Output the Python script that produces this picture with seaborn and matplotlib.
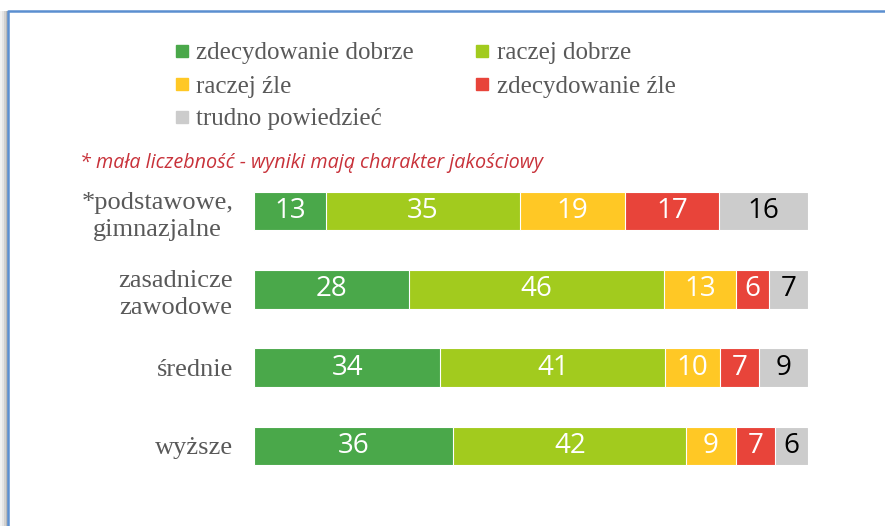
import numpy as np
import pandas as pd
import seaborn as sns
import matplotlib.pyplot as plt
from matplotlib.lines import Line2D
from matplotlib.patches import Rectangle

categories = ["*podstawowe,\ngimnazjalne", "zasadnicze\nzawodowe", "średnie", "wyższe"]
series_names = ["zdecydowanie dobrze", "raczej dobrze", "raczej źle", "zdecydowanie źle", "trudno powiedzieć"]
zd_dobrze = [13, 28, 34, 36]
raczej_dobrze = [35, 46, 41, 42]
raczej_zle = [19, 13, 10, 9]
zd_zle = [17, 6, 7, 7]
trudno = [16, 7, 9, 6]
colors = ["#4aa84a", "#a2cb1e", "#ffc825", "#e8443a", "#cccccc"]
label_colors = ["white", "white", "white", "white", "black"]
note = "* mała liczebność - wyniki mają charakter jakościowy"

vals = np.array([zd_dobrze, raczej_dobrze, raczej_zle, zd_zle, trudno], dtype=float)
# 100% stacked: bar lengths are shares of each row
shares = vals / vals.sum(axis=0) * 100
cum = shares.cumsum(axis=0)

df = pd.DataFrame({"kat": categories})
for k, name in enumerate(series_names):
    df[name] = cum[k]

sns.set_style("white")
fig = plt.figure(figsize=(8.85, 5.26), dpi=100)
ax = fig.add_axes([254 / 885, 1 - 485 / 526, 554 / 885, 313 / 526])

# draw from the right end backwards so every segment shows
for k in range(len(series_names) - 1, -1, -1):
    sns.barplot(data=df, x=series_names[k], y="kat", orient="h", color=colors[k],
                saturation=1, width=0.49, edgecolor="white", linewidth=0.8, ax=ax)

for k in range(len(series_names)):
    for i in range(len(categories)):
        ax.text(cum[k, i] - shares[k, i] / 2, i, f"{vals[k, i]:.0f}", ha="center", va="center",
                color=label_colors[k], fontsize=20, family="Open Sans")

ax.set_xlim(0, 100)
ax.set_ylim(3.5, -0.5)
ax.set_xlabel("")
ax.set_ylabel("")
ax.set_xticks([])
sns.despine(ax=ax, left=True, bottom=True)
ax.tick_params(axis="y", length=0, pad=15)
for t in ax.get_yticklabels():
    t.set_family("Liberation Serif")
    t.set_fontsize(19)
    t.set_color("#595959")
    t.set_multialignment("center")
    t.set_linespacing(1.3)

handles = [Line2D([], [], linestyle="none", marker="s", markersize=9, color=c) for c in colors]
order = [0, 2, 4, 1, 3]
fig.legend([handles[i] for i in order], [series_names[i] for i in order], ncol=2,
           loc="upper left", bbox_to_anchor=(174 / 885, 1 - 42 / 526), frameon=False,
           prop={"family": "Liberation Serif", "size": 18}, labelcolor="#595959",
           handlelength=0.6, handletextpad=0.3, columnspacing=2.4, labelspacing=0.42,
           borderaxespad=0, borderpad=0)

fig.text(80 / 885, 1 - 163 / 526, note, color="#c8323a", fontsize=14.2, style="italic",
         family="Open Sans", va="center", ha="left")

# page frame with shadow
for j, a in enumerate([0.05, 0.1, 0.18, 0.28]):
    fig.add_artist(Rectangle((j * 2 / 885, 0), 2 / 885, 1 - 11 / 526, transform=fig.transFigure,
                             facecolor="black", alpha=a, edgecolor="none"))
fig.add_artist(Line2D([8 / 885, 8 / 885, 1.01], [0, 1 - 11 / 526, 1 - 11 / 526],
                      transform=fig.transFigure, color="#5b8fd0", linewidth=1.8))

fig.savefig("out.png", dpi=100)
